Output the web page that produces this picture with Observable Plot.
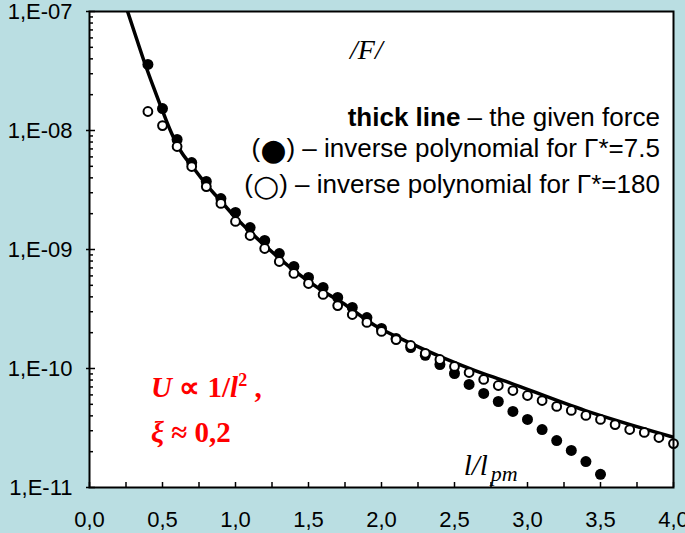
<!DOCTYPE html>
<html><head><meta charset="utf-8">
<script src="https://cdn.jsdelivr.net/npm/d3@7"></script>
<script src="https://cdn.jsdelivr.net/npm/@observablehq/plot@0.6"></script>
<style>
html,body{margin:0;padding:0;background:#badee2;}
#chart svg{display:block;}
</style></head><body><div id="chart"></div>
<script>
// thick line – the given force
const xLine = [0.226, 0.261, 0.322, 0.377, 0.439, 0.494, 0.563, 0.631, 0.720, 0.816, 0.885, 0.995, 1.194, 1.393, 1.592, 1.729, 1.955, 2.189, 2.415, 2.641, 2.875, 3.396, 4.007];
const yLine = [1.34e-7, 1.0e-7, 5.93e-8, 3.73e-8, 2.30e-8, 1.53e-8, 9.44e-9, 6.53e-9, 4.70e-9, 3.32e-9, 2.68e-9, 1.89e-9, 1.10e-9, 6.79e-10, 4.52e-10, 3.59e-10, 2.30e-10, 1.65e-10, 1.24e-10, 9.61e-11, 7.62e-11, 4.43e-11, 2.63e-11];
// (●) inverse polynomial for Γ*=7.5
const xFilled = [0.4,0.5,0.6,0.7,0.8,0.9,1.0,1.1,1.2,1.3,1.4,1.5,1.6,1.7,1.8,1.9,2.0,2.1,2.2,2.3,2.4,2.5,2.6,2.7,2.8,2.9,3.0,3.1,3.2,3.3,3.4,3.5];
const yFilled = [3.59e-8,1.53e-8,8.40e-9,5.38e-9,3.73e-9,2.68e-9,2.05e-9,1.53e-9,1.19e-9,9.25e-10,7.20e-10,5.82e-10,4.80e-10,3.95e-10,3.26e-10,2.68e-10,2.17e-10,1.79e-10,1.50e-10,1.29e-10,1.08e-10,9.08e-11,7.34e-11,6.17e-11,5.28e-11,4.36e-11,3.73e-11,3.07e-11,2.48e-11,2.05e-11,1.65e-11,1.29e-11];
// (○) inverse polynomial for Γ*=180
const xOpen = [0.4,0.5,0.6,0.7,0.8,0.9,1.0,1.1,1.2,1.3,1.4,1.5,1.6,1.7,1.8,1.9,2.0,2.1,2.2,2.3,2.4,2.5,2.6,2.7,2.8,2.9,3.0,3.1,3.2,3.3,3.4,3.5,3.6,3.7,3.8,3.9,4.0];
const yOpen = [1.445e-8,1.10e-8,7.34e-9,4.98e-9,3.38e-9,2.44e-9,1.72e-9,1.31e-9,1.02e-9,7.93e-10,6.29e-10,5.18e-10,4.19e-10,3.38e-10,2.84e-10,2.44e-10,2.05e-10,1.75e-10,1.56e-10,1.34e-10,1.19e-10,1.04e-10,9.25e-11,8.09e-11,7.20e-11,6.53e-11,5.93e-11,5.38e-11,4.80e-11,4.44e-11,4.03e-11,3.73e-11,3.38e-11,3.07e-11,2.90e-11,2.63e-11,2.34e-11];

const yTickValues = [1e-11, 1e-10, 1e-9, 1e-8, 1e-7];
const yTickLabels = ["1,E-11", "1,E-10", "1,E-09", "1,E-08", "1,E-07"];
const xTickValues = [0, 0.5, 1, 1.5, 2, 2.5, 3, 3.5, 4];
const xTickLabels = ["0,0", "0,5", "1,0", "1,5", "2,0", "2,5", "3,0", "3,5", "4,0"];
const xMinorTicks = [0, 0.25, 0.5, 0.75, 1, 1.25, 1.5, 1.75, 2, 2.25, 2.5, 2.75, 3, 3.25, 3.5, 3.75, 4];
const yMinorTicks = [];
for (let e = -11; e < -7; e++) for (let m = 2; m <= 9; m++) yMinorTicks.push(m * Math.pow(10, e));

const lineData = xLine.map((x, i) => ({x, y: yLine[i]}));
const filledData = xFilled.map((x, i) => ({x, y: yFilled[i]}));
const openData = xOpen.map((x, i) => ({x, y: yOpen[i]}));

const SANS = "'Liberation Sans', Arial, sans-serif";
const SERIF = "'Liberation Serif', 'Times New Roman', serif";

const plot = Plot.plot({
  width: 685, height: 533,
  marginLeft: 89, marginRight: 12, marginTop: 11, marginBottom: 46,
  style: {background: "#badee2", fontFamily: SANS, fontSize: "22px", color: "black"},
  x: {domain: [0, 4]},
  y: {type: "log", domain: [1e-11, 1e-7]},
  marks: [
    Plot.frame({fill: "white", stroke: null}),
    Plot.line(lineData, {x: "x", y: "y", stroke: "black", strokeWidth: 3.5, curve: "catmull-rom", clip: true}),
    Plot.dot(filledData, {x: "x", y: "y", r: 5.5, fill: "black", stroke: null}),
    Plot.dot(openData, {x: "x", y: "y", r: 4.4, fill: "white", stroke: "black", strokeWidth: 2}),
    Plot.frame({stroke: "black", strokeWidth: 2}),
    Plot.axisY({ticks: yTickValues, tickSize: 0, tickPadding: 17, fontSize: 22,
      tickFormat: d => yTickLabels[yTickValues.indexOf(d)], label: null}),
    Plot.axisY({ticks: yTickValues, tickSize: 3, text: null, label: null, strokeWidth: 1.5}),
    Plot.axisY({ticks: yTickValues, tickSize: -6, text: null, label: null, strokeWidth: 1.5}),
    Plot.axisY({ticks: yMinorTicks, tickSize: -4, text: null, label: null, strokeWidth: 1.5}),
    Plot.axisX({ticks: xTickValues, tickSize: 0, tickPadding: 24, fontSize: 22,
      tickFormat: d => xTickLabels[xTickValues.indexOf(d)], label: null}),
    Plot.axisX({ticks: xMinorTicks, tickSize: -5, text: null, label: null, strokeWidth: 1.5})
  ]
});

document.getElementById("chart").appendChild(plot);

// annotations placed through the plot's scales
const sx = plot.scale("x"), sy = plot.scale("y");
const svg = d3.select(plot);
const g = svg.append("g").attr("text-anchor", "start");

// /F/
g.append("text").attr("x", sx.apply(1.90)).attr("y", sy.apply(3.95e-8))
  .attr("text-anchor", "middle").attr("font-family", SERIF).attr("font-style", "italic")
  .attr("font-size", 28).text("/F/");

// legend
const legX = sx.apply(3.91);
const LEG = 26;
const l1 = g.append("text").attr("x", legX).attr("y", sy.apply(1.08e-8))
  .attr("text-anchor", "end").attr("font-family", SANS).attr("font-size", LEG);
l1.append("tspan").attr("font-weight", "bold").text("thick line");
l1.append("tspan").text(" – the given force");

function symLine(yv, glyph, rest) {
  const tx = g.append("text").attr("x", legX).attr("y", sy.apply(yv))
    .attr("text-anchor", "end").attr("font-family", SANS).attr("font-size", LEG);
  tx.append("tspan").text("(");
  tx.append("tspan").attr("font-family", "'DejaVu Sans', sans-serif").attr("font-size", 30).attr("dy", 3).text(glyph);
  tx.append("tspan").attr("dy", -3).text(")" + rest);
}
symLine(5.93e-9, "●", " – inverse polynomial for Γ*=7.5");
symLine(2.96e-9, "○", " – inverse polynomial for Γ*=180");

// axis title l/l_pm
const t = g.append("text").attr("x", sx.apply(2.566)).attr("y", sy.apply(1.26e-11))
  .attr("font-family", SERIF).attr("font-style", "italic").attr("font-size", 29);
t.append("tspan").text("l/l");
t.append("tspan").attr("font-size", 22).attr("dy", 6).attr("dx", 3).text("pm");

// red note
const RED = 29;
const r1 = g.append("text").attr("x", sx.apply(0.425)).attr("y", sy.apply(5.70e-11))
  .attr("font-family", SERIF).attr("font-weight", "bold").attr("font-size", RED).attr("fill", "#ff0000");
r1.append("tspan").attr("font-style", "italic").text("U");
r1.append("tspan").text(" ∝ 1/");
r1.append("tspan").attr("font-style", "italic").text("l");
r1.append("tspan").attr("font-size", 18).attr("dy", -11).text("2");
r1.append("tspan").attr("dy", 11).text(" ,");
const r2 = g.append("text").attr("x", sx.apply(0.425)).attr("y", sy.apply(2.39e-11))
  .attr("font-family", SERIF).attr("font-weight", "bold").attr("font-size", RED).attr("fill", "#ff0000");
r2.append("tspan").attr("font-style", "italic").text("ξ");
r2.append("tspan").text(" ≈ 0,2");
</script></body></html>
